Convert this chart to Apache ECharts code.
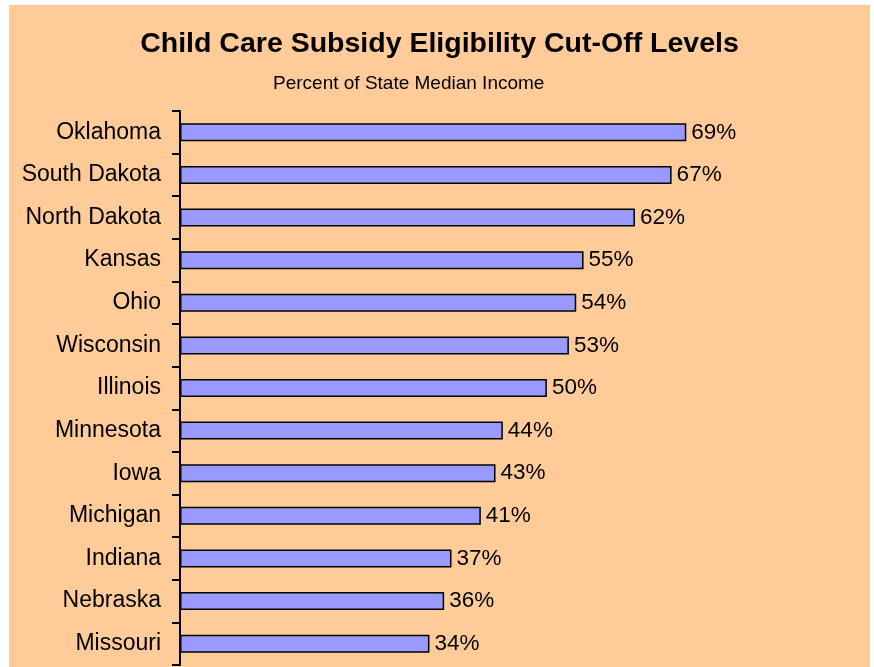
<!DOCTYPE html>
<html>
<head>
<meta charset="utf-8">
<script src="https://cdn.jsdelivr.net/npm/echarts@6/dist/echarts.min.js"></script>
<style>
  html, body { margin: 0; padding: 0; background: #ffffff; }
  #chart {
    position: absolute;
    left: 9px;
    top: 5px;
    width: 861px;
    height: 662px;
    background: #ffcc99;
  }
</style>
</head>
<body>
<div id="chart"></div>
<script>
// states, top to bottom as shown
const states = [
  'Oklahoma', 'South Dakota', 'North Dakota', 'Kansas', 'Ohio', 'Wisconsin',
  'Illinois', 'Minnesota', 'Iowa', 'Michigan', 'Indiana', 'Nebraska', 'Missouri'
];
// percent of state median income
const cutOff = [69, 67, 62, 55, 54, 53, 50, 44, 43, 41, 37, 36, 34];

const titleText = 'Child Care Subsidy Eligibility Cut-Off Levels';
const subTitleText = 'Percent of State Median Income';

const chart = echarts.init(document.getElementById('chart'));

chart.setOption({
  animation: false,
  backgroundColor: 'transparent',
  textStyle: { fontFamily: 'Liberation Sans, Arial, sans-serif' },
  title: [
    {
      text: titleText,
      left: 'center',
      top: 25,
      padding: 0,
      textStyle: { fontSize: 28.5, fontWeight: 'bold', color: '#000' }
    },
    {
      text: subTitleText,
      left: 264,
      top: 69,
      padding: 0,
      textStyle: { fontSize: 19, fontWeight: 'normal', color: '#000' }
    }
  ],
  grid: {
    left: 171,
    right: 103,
    top: 106,
    bottom: 2,
    containLabel: false
  },
  xAxis: {
    type: 'value',
    min: 0,
    max: 80,
    show: false,
    splitLine: { show: false }
  },
  yAxis: {
    type: 'category',
    data: states,
    inverse: true,
    axisLine: { show: true, lineStyle: { color: '#000', width: 2 } },
    axisTick: { show: true, length: 8, lineStyle: { color: '#000', width: 2 } },
    axisLabel: { margin: 19, fontSize: 23, color: '#000' },
    splitLine: { show: false }
  },
  series: [
    {
      type: 'bar',
      data: cutOff,
      barWidth: 18,
      itemStyle: { color: '#9999ff', borderColor: '#000', borderWidth: 1.5 },
      label: {
        show: true,
        position: 'right',
        distance: 5,
        formatter: '{c}%',
        fontSize: 22.5,
        color: '#000'
      }
    }
  ]
});
</script>
</body>
</html>
